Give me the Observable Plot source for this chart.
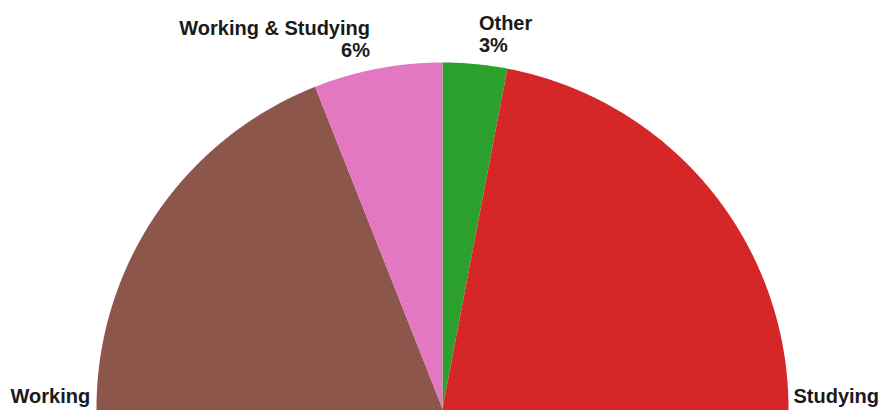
<!DOCTYPE html>
<html><head><meta charset="utf-8">
<script src="https://cdn.jsdelivr.net/npm/d3@7"></script>
<script src="https://cdn.jsdelivr.net/npm/@observablehq/plot@0.6"></script>
<style>body{margin:0;background:#fff}</style>
</head><body><div id="chart"></div>
<script>
// Data (clockwise from 12 o'clock); the bottom slice is hidden below the visible frame
const categories = ["Other", "Studying", "Looking for work", "Working", "Working & Studying"];
const shares = [3, 43, 11, 37, 6];
const percentLabels = ["3%", "43%", "11%", "37%", "6%"];

const W = 880, H = 410;
const cx = 442, cy = 408, R = 346, RL = 387;
const FONT = "bold 20px 'Liberation Sans', Arial, sans-serif";

const total = d3.sum(shares);
let acc = 0;
const slices = categories.map((c, i) => {
  const a0 = acc / total * 2 * Math.PI; acc += shares[i];
  const a1 = acc / total * 2 * Math.PI;
  return {c, v: shares[i], pct: percentLabels[i], a0, a1, mid: (a0 + a1) / 2};
});

const pts = slices.flatMap(s => {
  const n = Math.max(2, Math.ceil((s.a1 - s.a0) / (Math.PI / 720)));
  const arr = [{c: s.c, x: cx, y: cy}];
  for (let k = 0; k <= n; k++) {
    const a = s.a0 + (s.a1 - s.a0) * k / n;
    arr.push({c: s.c, x: cx + R * Math.sin(a), y: cy - R * Math.cos(a)});
  }
  arr.push({c: s.c, x: cx, y: cy});
  return arr;
});

const ctx = document.createElement("canvas").getContext("2d");
ctx.font = FONT;
const labels = slices.map(s => {
  const right = Math.sin(s.mid) >= 0;
  const w = ctx.measureText(s.c).width;
  let x = cx + RL * Math.sin(s.mid);
  if (right && x + w > W - 1.5) x = W - 1.5 - w;
  if (!right && x - w < 10) x = 10 + w;
  return {c: s.c, pct: s.pct, x, y: cy - RL * Math.cos(s.mid), anchor: right ? "start" : "end"};
});

const textOpts = {fontSize: 20, fontWeight: "bold", fill: "#1a1a1a", fontFamily: "'Liberation Sans', Arial, sans-serif"};

const chart = Plot.plot({
  width: W, height: H,
  margin: 0,
  x: {domain: [0, W], range: [0, W], axis: null},
  y: {domain: [0, H], range: [0, H], axis: null},
  color: {domain: categories, range: ["#2ca02c", "#d62728", "#9467bd", "#8c564b", "#e377c2"]},
  style: {background: "#fff"},
  marks: [
    Plot.line(pts, {x: "x", y: "y", z: "c", fill: "c", stroke: "none", curve: "linear"}),
    ...["start", "end"].flatMap(anchor => {
      const d = labels.filter(l => l.anchor === anchor);
      return [
        Plot.text(d, {x: "x", y: "y", text: "c", textAnchor: anchor, ...textOpts}),
        Plot.text(d, {x: "x", y: "y", text: "pct", textAnchor: anchor, dy: 22, ...textOpts})
      ];
    })
  ]
});
document.getElementById("chart").append(chart);
</script>
</body></html>
